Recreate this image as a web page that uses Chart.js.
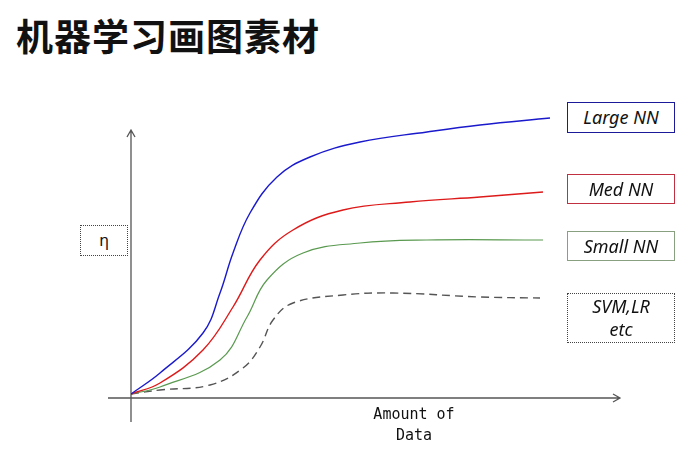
<!DOCTYPE html>
<html><head><meta charset="utf-8">
<script src="https://cdn.jsdelivr.net/npm/chart.js@4"></script>
<style>
body{margin:0;background:#fff;width:694px;height:456px;position:relative;overflow:hidden;font-family:"Noto Sans",sans-serif}
#c{position:absolute;left:0;top:0}
.t{position:absolute;left:16px;top:8px;font:bold 37px "Noto Sans CJK SC";color:#111;letter-spacing:1px}
.b{position:absolute;box-sizing:border-box;display:flex;align-items:center;justify-content:center;text-align:center;font-style:italic;font-size:18px;color:#111;line-height:23px;background:#fff}
.ax{position:absolute;font:15px "DejaVu Sans Mono";text-align:center;color:#111;line-height:21px}
</style></head><body>
<div class="t">机器学习画图素材</div>
<canvas id="c" width="694" height="456"></canvas>
<div class="b" style="left:567px;top:102px;width:108px;height:31px;border:1.5px solid #1a1a9a">Large NN</div>
<div class="b" style="left:567px;top:174px;width:108px;height:30px;border:1px solid #c03040">Med NN</div>
<div class="b" style="left:567px;top:231px;width:108px;height:30px;border:1px solid #88a080">Small NN</div>
<div class="b" style="left:567px;top:293px;width:108px;height:50px;border:1.5px dotted #444">SVM,LR<br>etc</div>
<div class="b" style="left:80px;top:225px;width:48px;height:31px;border:1.5px dotted #444;font-style:normal;font-size:16px">η</div>
<div class="ax" style="left:354px;top:404px;width:120px">Amount of<br>Data</div>
<script>
const largeX=[0,29,72,89,102,119,146,179,229,296,349,419];
const largeY=[4,25,65,105,145,185,221,241,256,266,273,280];
const medX=[0,29,72,102,129,162,212,279,349,412];
const medY=[4,15,48,91,138,168,188,196,201,206];
const smallX=[0,29,89,116,136,172,229,296,412];
const smallY=[4,11,38,81,118,145,155,158,158];
const svmX=[0,29,79,112,129,142,162,212,262,349,409];
const svmY=[4,8,13,30,51,78,95,103,105,101,100];
const pts=(xs,ys)=>xs.map((x,i)=>({x,y:ys[i]}));
const ds=(xs,ys,c,w,dash)=>({data:pts(xs,ys),borderColor:c,borderWidth:w,borderDash:dash||[],showLine:true,pointRadius:0,tension:0.4,fill:false});
const axes={id:'axes',beforeDatasetsDraw(ch){
 const c=ch.ctx,xs=ch.scales.x,ys=ch.scales.y;
 const x0=xs.getPixelForValue(0),y0=ys.getPixelForValue(0);
 const xl=xs.getPixelForValue(-23),xr=xs.getPixelForValue(489);
 const yb=ys.getPixelForValue(-24),yt=ys.getPixelForValue(268);
 c.save();c.strokeStyle='#555';c.lineWidth=1.3;
 c.beginPath();c.moveTo(xl,y0);c.lineTo(xr,y0);c.moveTo(x0,yb);c.lineTo(x0,yt);
 c.moveTo(xr-7,y0-4);c.lineTo(xr,y0);c.lineTo(xr-7,y0+4);
 c.moveTo(x0-4,yt+7);c.lineTo(x0,yt);c.lineTo(x0+4,yt+7);c.stroke();c.restore();}};
new Chart(document.getElementById('c'),{type:'scatter',
 data:{datasets:[ds(largeX,largeY,'#1a1acc',1.4),ds(medX,medY,'#dd1a1a',1.4),ds(smallX,smallY,'#5a9a50',1.2),ds(svmX,svmY,'#555',1.4,[8,5])]},
 options:{responsive:false,animation:false,layout:{padding:{left:131,right:94,top:98,bottom:58}},
  plugins:{legend:{display:false},tooltip:{enabled:false}},
  scales:{x:{type:'linear',min:0,max:469,display:false},y:{min:0,max:300,display:false}}},
 plugins:[axes]});
</script></body></html>
